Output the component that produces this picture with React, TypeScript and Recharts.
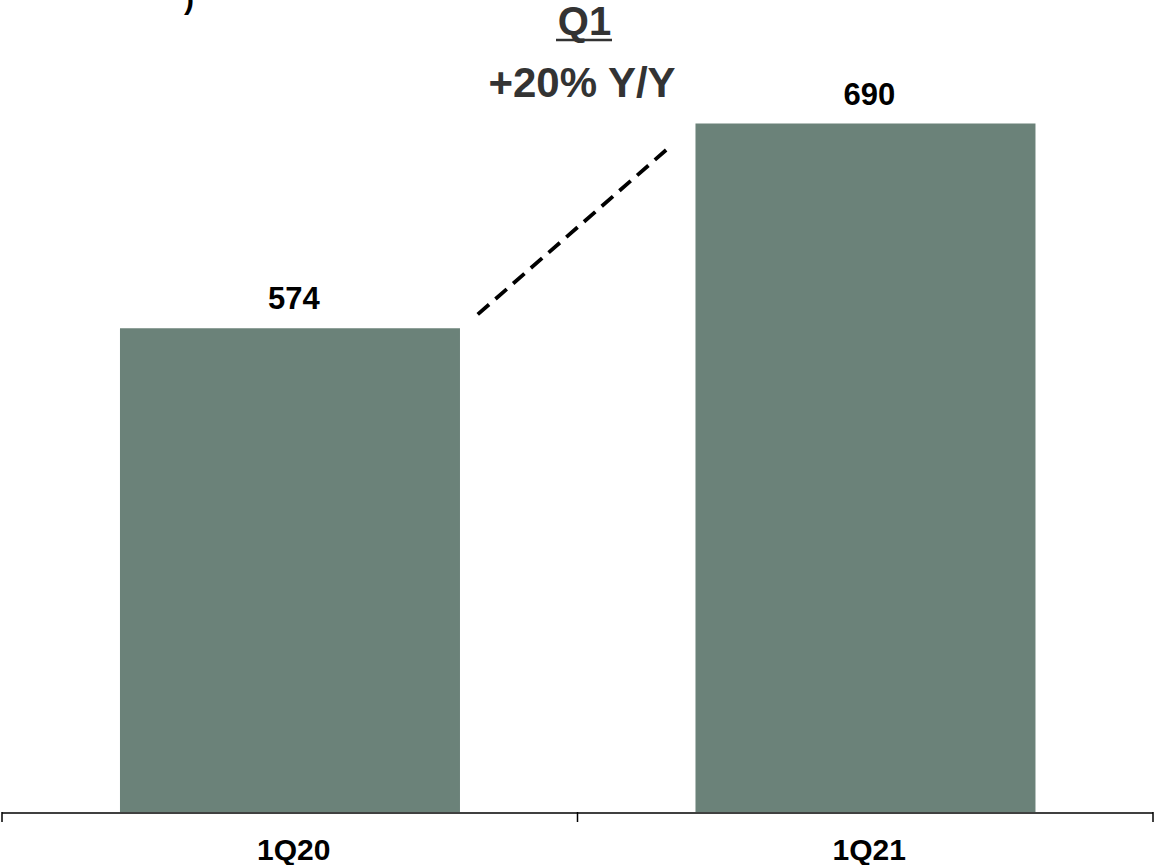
import { Bar, BarChart, LabelList, ReferenceLine, XAxis, YAxis } from "recharts";

const quarters = ["1Q20", "1Q21"];
const revenue = [574, 690];
const growthLabel = "+20% Y/Y";
const periodLabel = "Q1";

const data = quarters.map((quarter, i) => ({ quarter, revenue: revenue[i], slot: i + 0.5 }));

const FONT = '"Liberation Sans", Arial, sans-serif';
const BAR_COLOR = "#6b8279";

function QuarterTick(props: any) {
  const { x, y, payload } = props;
  return (
    <text x={x + 4} y={y + 47} textAnchor="middle" fontFamily={FONT} fontWeight="bold" fontSize={30} fill="#000">
      {payload.value}
    </text>
  );
}

function ValueLabel(props: any) {
  const { x, y, width, value } = props;
  return (
    <text x={x + width / 2 + 4} y={y - 19} textAnchor="middle" fontFamily={FONT} fontWeight="bold" fontSize={31} fill="#000">
      {value}
    </text>
  );
}

const NoLabel = () => <g />;

export default function App() {
  return (
    <div style={{ position: "absolute", left: 0, top: 0, width: 1155, height: 865, background: "#fff" }}>
      <BarChart width={1155} height={865} data={data} margin={{ top: 0, right: 2, bottom: 0, left: 2 }} barCategoryGap="20.5%">
        {/* boundary ticks between quarters */}
        <XAxis
          xAxisId="bounds"
          dataKey="slot"
          type="number"
          domain={[0, 2]}
          ticks={[0, 1, 2]}
          allowDataOverflow
          interval={0}
          tick={<NoLabel />}
          axisLine={false}
          tickLine={{ stroke: "#000", strokeWidth: 1.5 }}
          tickSize={10}
          height={1}
        />
        <XAxis
          xAxisId="quarters"
          dataKey="quarter"
          axisLine={{ stroke: "#000", strokeWidth: 1.5 }}
          tickLine={false}
          tickSize={0}
          tickMargin={0}
          tick={<QuarterTick />}
          height={52}
        />
        <YAxis hide domain={[300, 760]} allowDataOverflow />
        <Bar xAxisId="quarters" dataKey="revenue" fill={BAR_COLOR} isAnimationActive={false}>
          <LabelList dataKey="revenue" content={<ValueLabel />} />
        </Bar>
        <ReferenceLine
          xAxisId="bounds"
          ifOverflow="visible"
          segment={[
            { x: 1.154, y: 675 },
            { x: 0.82, y: 580 },
          ]}
          stroke="#000"
          strokeWidth={3.8}
          strokeDasharray="15 8.5"
        />
      </BarChart>
      <svg width={1155} height={865} style={{ position: "absolute", left: 0, top: 0, pointerEvents: "none" }}>
        <text x={189} y={9} textAnchor="middle" fontFamily={FONT} fontWeight="bold" fontSize={30} fill="#000">
          )
        </text>
        <text x={584.5} y={35} textAnchor="middle" fontFamily={FONT} fontWeight="bold" fontSize={40} fill="#333">
          {periodLabel}
        </text>
        <line x1={556} x2={612} y1={40} y2={40} stroke="#333" strokeWidth={2.5} />
        <text x={582} y={97} textAnchor="middle" fontFamily={FONT} fontWeight="bold" fontSize={42} fill="#333">
          {growthLabel}
        </text>
      </svg>
    </div>
  );
}
